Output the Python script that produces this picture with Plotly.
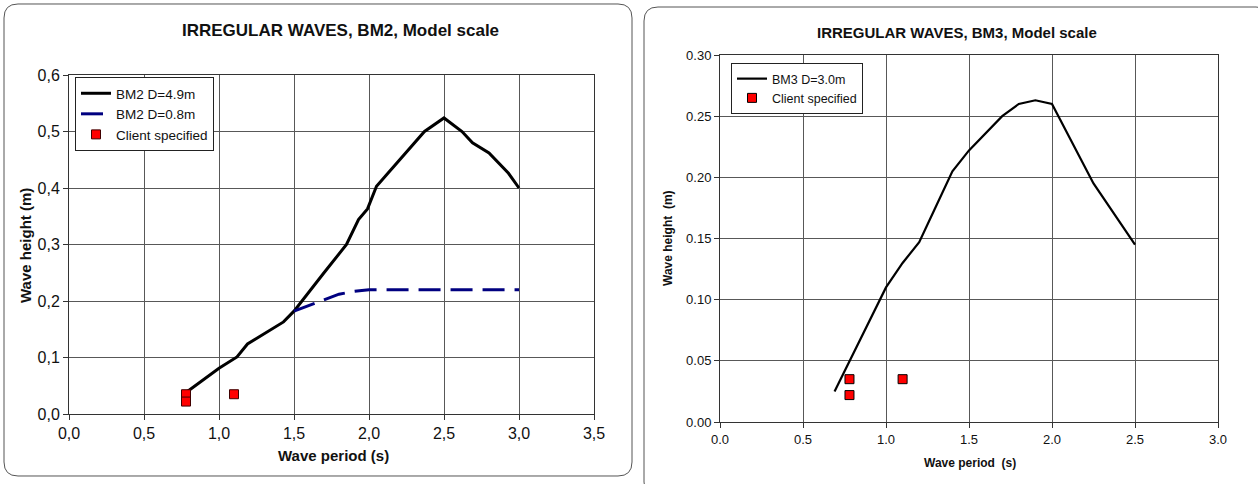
import plotly.graph_objects as go

W, H = 1258, 484

# ---------------- data ----------------
# Left chart: BM2
bm2_49_period = [0.78, 0.90, 1.00, 1.12, 1.19, 1.43, 1.50, 1.70, 1.85, 1.93, 1.99, 2.05, 2.37, 2.50, 2.62, 2.69, 2.80, 2.93, 3.00]
bm2_49_height = [0.038, 0.062, 0.081, 0.101, 0.124, 0.163, 0.182, 0.250, 0.300, 0.344, 0.363, 0.403, 0.500, 0.524, 0.500, 0.480, 0.462, 0.426, 0.400]
bm2_08_period = [1.50, 1.60, 1.70, 1.80, 1.90, 2.00, 2.50, 3.00]
bm2_08_height = [0.182, 0.192, 0.202, 0.212, 0.217, 0.220, 0.220, 0.220]
client_period = [0.78, 0.78, 1.10]
client_height = [0.035, 0.022, 0.035]

# Right chart: BM3
bm3_30_period = [0.69, 0.80, 0.90, 1.00, 1.10, 1.20, 1.30, 1.40, 1.50, 1.70, 1.80, 1.90, 2.00, 2.25, 2.50]
bm3_30_height = [0.025, 0.055, 0.083, 0.110, 0.130, 0.147, 0.176, 0.205, 0.222, 0.250, 0.260, 0.263, 0.260, 0.195, 0.145]

# tick labels
left_xticks = [0, 0.5, 1.0, 1.5, 2.0, 2.5, 3.0, 3.5]
left_xtext = ["0,0", "0,5", "1,0", "1,5", "2,0", "2,5", "3,0", "3,5"]
left_yticks = [0, 0.1, 0.2, 0.3, 0.4, 0.5, 0.6]
left_ytext = ["0,0", "0,1", "0,2", "0,3", "0,4", "0,5", "0,6"]
right_xticks = [0, 0.5, 1.0, 1.5, 2.0, 2.5, 3.0]
right_xtext = ["0.0", "0.5", "1.0", "1.5", "2.0", "2.5", "3.0"]
right_yticks = [0, 0.05, 0.10, 0.15, 0.20, 0.25, 0.30]
right_ytext = ["0.00", "0.05", "0.10", "0.15", "0.20", "0.25", "0.30"]

FONT = "Liberation Sans, Arial, sans-serif"


def px(x):
    return x / W


def py(y):
    return 1 - y / H


fig = go.Figure()

# left traces
fig.add_trace(go.Scatter(x=bm2_49_period, y=bm2_49_height, mode="lines", name="BM2 D=4.9m",
                         line=dict(color="black", width=3), xaxis="x", yaxis="y", legend="legend"))
fig.add_trace(go.Scatter(x=bm2_08_period, y=bm2_08_height, mode="lines", name="BM2 D=0.8m",
                         line=dict(color="#000080", width=3, dash="22px,10px"), xaxis="x", yaxis="y",
                         legend="legend"))
fig.add_trace(go.Scatter(x=client_period, y=client_height, mode="markers", name="Client specified",
                         marker=dict(symbol="square", size=9, color="red", line=dict(color="#400000", width=1)),
                         xaxis="x", yaxis="y", legend="legend"))

# right traces
fig.add_trace(go.Scatter(x=bm3_30_period, y=bm3_30_height, mode="lines", name="BM3 D=3.0m",
                         line=dict(color="black", width=2.2), xaxis="x2", yaxis="y2", legend="legend2"))
fig.add_trace(go.Scatter(x=client_period, y=client_height, mode="markers", name="Client specified",
                         marker=dict(symbol="square", size=9, color="red", line=dict(color="black", width=1)),
                         xaxis="x2", yaxis="y2", legend="legend2"))

axis_common = dict(showgrid=True, gridcolor="#585858", gridwidth=1, showline=True, linecolor="#333",
                   linewidth=1, mirror=True, ticks="outside", ticklen=5, tickcolor="#333",
                   zeroline=False, fixedrange=True, automargin=False)

fig.update_layout(
    template=None,
    width=W, height=H,
    autosize=False,
    margin=dict(l=0, r=0, t=0, b=0, pad=0, autoexpand=False),
    paper_bgcolor="white", plot_bgcolor="white",
    font=dict(family=FONT, color="#111"),
    xaxis=dict(domain=[px(69), px(594)], range=[0, 3.5], tickmode="array", tickvals=left_xticks,
               ticktext=left_xtext, tickfont=dict(size=16, family=FONT), anchor="y", **axis_common),
    yaxis=dict(domain=[py(414), py(75)], range=[0, 0.6], tickmode="array", tickvals=left_yticks,
               ticktext=left_ytext, tickfont=dict(size=16, family=FONT), anchor="x", **axis_common),
    xaxis2=dict(domain=[px(720), px(1218)], range=[0, 3.0], tickmode="array", tickvals=right_xticks,
                ticktext=right_xtext, tickfont=dict(size=13, family=FONT), anchor="y2", **axis_common),
    yaxis2=dict(domain=[py(422), py(55)], range=[0, 0.30], tickmode="array", tickvals=right_yticks,
                ticktext=right_ytext, tickfont=dict(size=13, family=FONT), anchor="x2", **axis_common),
    legend=dict(x=px(75), y=py(77), xanchor="left", yanchor="top", bgcolor="white",
                bordercolor="#222", borderwidth=1, font=dict(size=13.5, family=FONT),
                tracegroupgap=0, itemwidth=30),
    legend2=dict(x=px(731), y=py(63), xanchor="left", yanchor="top", bgcolor="white",
                 bordercolor="#222", borderwidth=1, font=dict(size=12.5, family=FONT),
                 tracegroupgap=0, itemwidth=30),
    showlegend=True,
)


def rounded_rect(x0, y0, x1, y1, r):
    # pixel coordinates -> paper path
    def P(x, y):
        return f"{px(x):.6f},{py(y):.6f}"
    path = (f"M {P(x0 + r, y0)} L {P(x1 - r, y0)} Q {P(x1, y0)} {P(x1, y0 + r)} "
            f"L {P(x1, y1 - r)} Q {P(x1, y1)} {P(x1 - r, y1)} "
            f"L {P(x0 + r, y1)} Q {P(x0, y1)} {P(x0, y1 - r)} "
            f"L {P(x0, y0 + r)} Q {P(x0, y0)} {P(x0 + r, y0)} Z")
    return dict(type="path", path=path, xref="paper", yref="paper",
                line=dict(color="#555", width=1), fillcolor="rgba(0,0,0,0)", layer="below")


fig.add_shape(**rounded_rect(4, 4, 632, 476, 14))
fig.add_shape(**rounded_rect(644, 7, 1270, 496, 14))

ann = [
    dict(text="<b>IRREGULAR WAVES, BM2, Model scale</b>", x=px(340), y=py(31), font=dict(size=17)),
    dict(text="<b>Wave period (s)</b>", x=px(333), y=py(455), font=dict(size=15)),
    dict(text="<b>Wave height (m)</b>", x=px(25), y=py(246), font=dict(size=15), textangle=-90),
    dict(text="<b>IRREGULAR WAVES, BM3, Model scale</b>", x=px(957), y=py(32), font=dict(size=15)),
    dict(text="<b>Wave period  (s)</b>", x=px(970), y=py(463), font=dict(size=12)),
    dict(text="<b>Wave height  (m)</b>", x=px(668), y=py(238), font=dict(size=12), textangle=-90),
]
for a in ann:
    a.update(xref="paper", yref="paper", showarrow=False, xanchor="center", yanchor="middle")
    a["font"].update(family=FONT, color="#111")
    fig.add_annotation(**a)

fig.write_html("out.html", config={"displayModeBar": False},
               post_script="document.body.style.margin='0';document.body.style.overflow='hidden';")
